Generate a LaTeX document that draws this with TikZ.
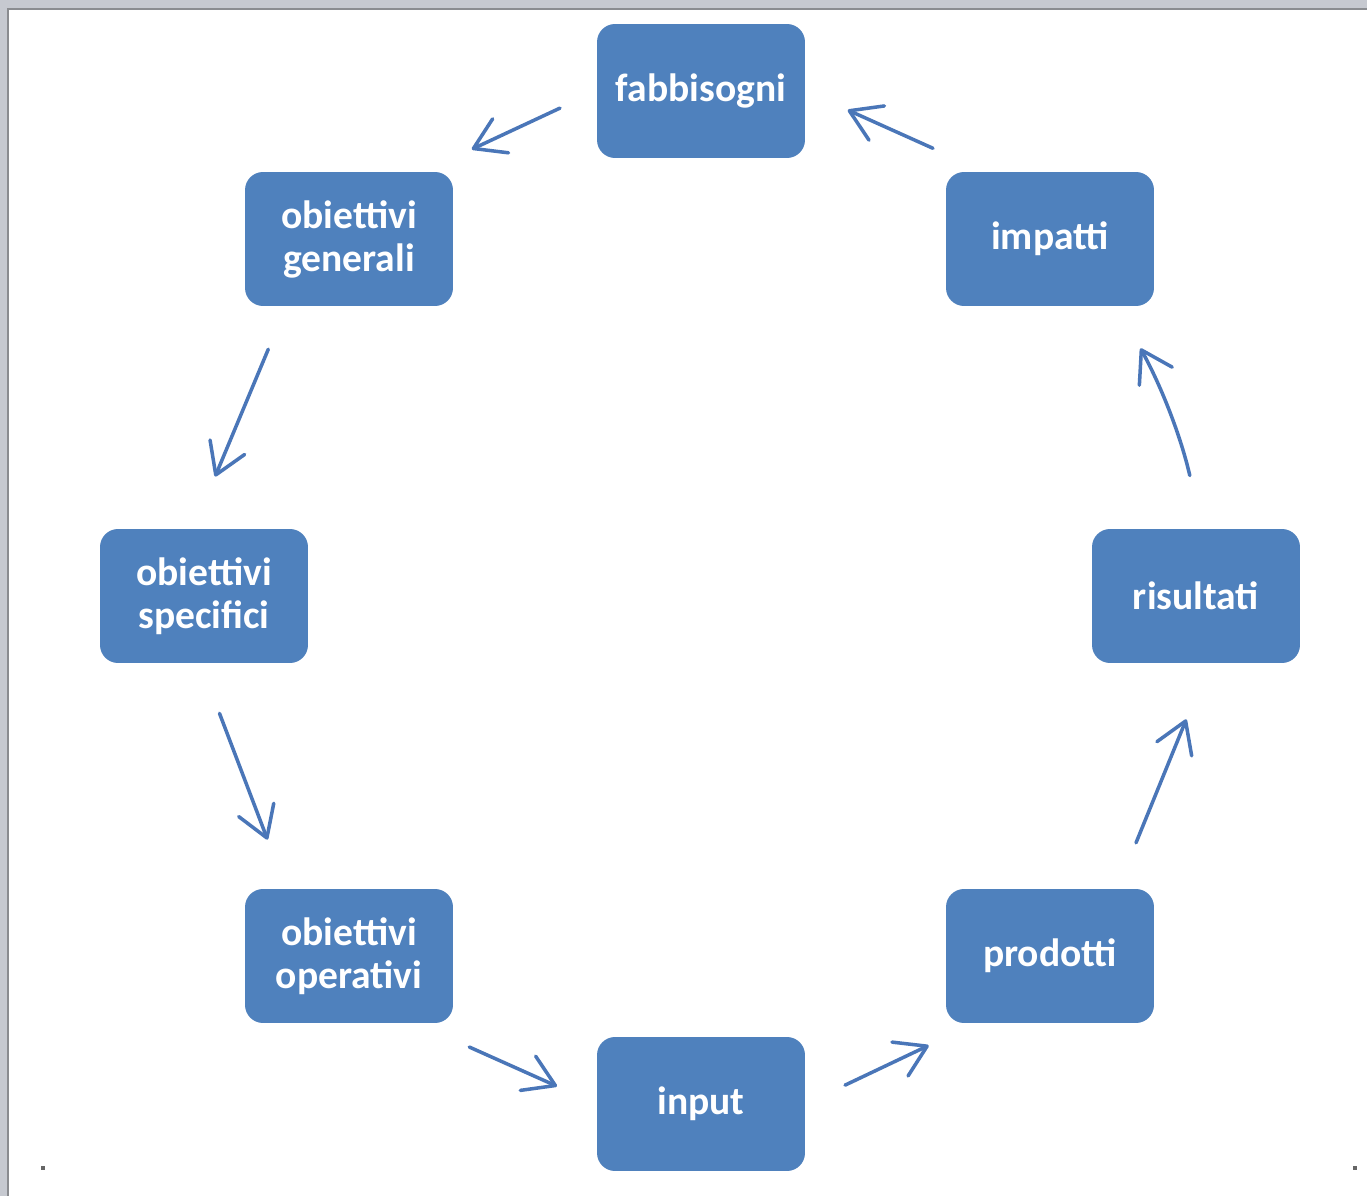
\documentclass[tikz,border=0pt]{standalone}
\usepackage{fontspec}
\setmainfont{Carlito}
\usetikzlibrary{arrows.meta}

\definecolor{boxblue}{HTML}{4F81BD}
\definecolor{arrowblue}{HTML}{4A76B8}
\definecolor{paneledge}{HTML}{8A8C90}
\definecolor{backgrey}{HTML}{C6C9D0}

\begin{document}
\begin{tikzpicture}[x=0.02cm,y=-0.02cm,
  box/.style={rectangle,rounded corners=0.36cm,fill=boxblue,text=white,
    minimum width=4.16cm,minimum height=2.68cm,inner sep=0pt,align=center,
    font=\fontsize{22.5}{24.5}\selectfont\bfseries},
  link/.style={-{Straight Barb[length=0.6cm,width=0.75cm,round]},line width=2pt,
    line cap=round,arrowblue}]

\useasboundingbox (0,0) rectangle (1367,1196);
\fill[backgrey] (0,0) rectangle (1367,1196);
\fill[white] (8,9) rectangle (1367,1196);
\draw[paneledge,line width=1.2pt] (8,1196) -- (8,9) -- (1367,9);
\fill[black!60] (41,1166) rectangle (45,1170);
\fill[black!60] (1353,1166) rectangle (1357,1170);

\node[box] (fab) at (701, 91) {fabbisogni};
\node[box] (gen) at (349, 239) {obiettivi\\generali};
\node[box] (imp) at (1050, 239) {impatti};
\node[box] (spe) at (204, 596) {obiettivi\\specifici};
\node[box] (ris) at (1196, 596) {risultati};
\node[box] (ope) at (349, 956) {obiettivi\\operativi};
\node[box] (pro) at (1050, 956) {prodotti};
\node[box] (inp) at (701, 1104) {input};

\draw[link,shorten <=0.81cm,shorten >=1.06cm] (fab.west) -- (gen.42);
\draw[link,shorten <=0.93cm,shorten >=1.13cm] (gen.227) -- (spe.99);
\draw[link,shorten <=1.07cm,shorten >=1.05cm] (spe.267) -- (ope.133);
\draw[link,shorten <=1.16cm,shorten >=0.87cm] (ope.315) -- (inp.west);
\draw[link,shorten <=0.88cm,shorten >=1.03cm] (inp.east) -- (pro.222);
\draw[link,shorten <=0.99cm,shorten >=1.21cm] (pro.45) -- (ris.281);
\draw[link,shorten <=1.09cm,shorten >=0.96cm] (ris.85) to[bend right=8] (imp.315);
\draw[link,shorten <=1.14cm,shorten >=0.93cm] (imp.134) -- (fab.east);

\end{tikzpicture}
\end{document}
